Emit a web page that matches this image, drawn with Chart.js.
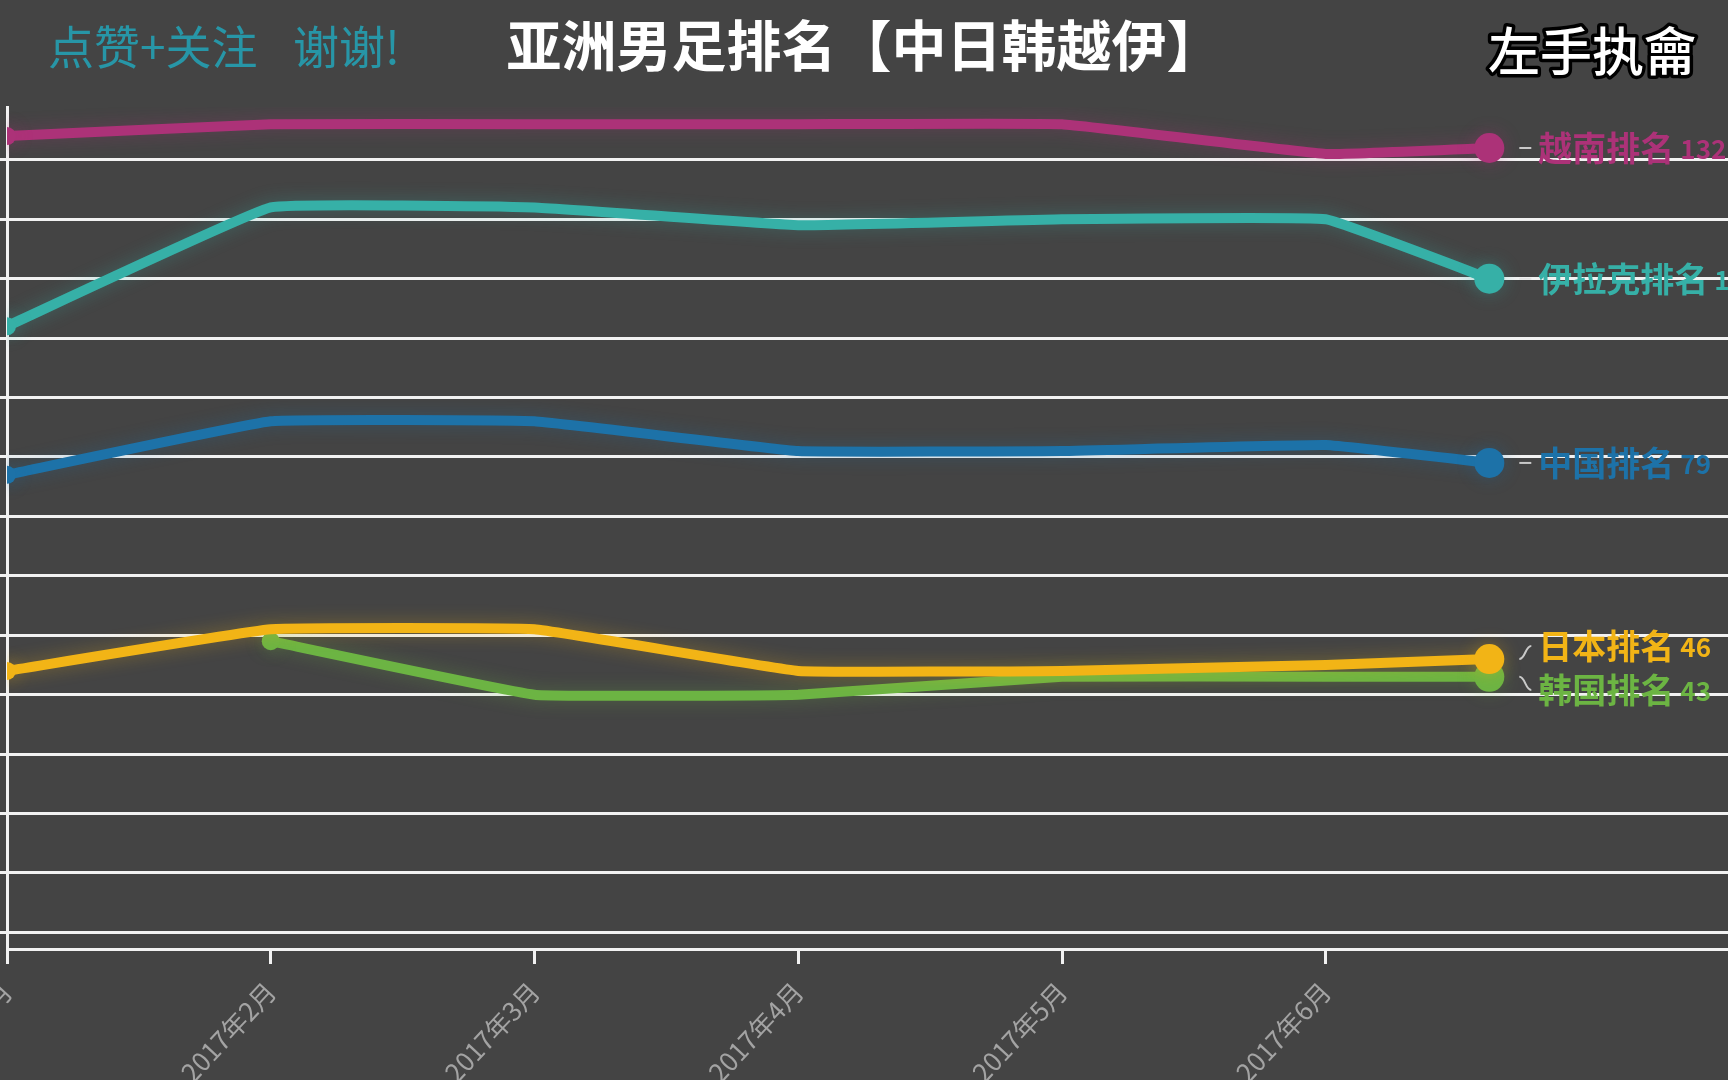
<!DOCTYPE html>
<html><head><meta charset="utf-8">
<script src="https://cdn.jsdelivr.net/npm/chart.js@4/dist/chart.umd.min.js"></script>
<style>html,body{margin:0;padding:0;background:#444444;overflow:hidden}</style>
</head><body>
<canvas id="c" width="1728" height="1080"></canvas>
<script>
// ---- data ----
const months = [1, 2, 3, 4, 5, 6, 6.62];
const tickMonths = [1, 2, 3, 4, 5, 6];
const tickLabels = ['2017年1月', '2017年2月', '2017年3月', '2017年4月', '2017年5月', '2017年6月'];
const gridValues = [0, 10, 20, 30, 40, 50, 60, 70, 80, 90, 100, 110, 120, 130];
const seriesNames = ['越南排名', '伊拉克排名', '中国排名', '日本排名', '韩国排名'];
const vietnam = [134, 136, 136, 136, 136, 131, 132];
const iraq    = [102, 122, 122, 119, 120, 120, 110];
const china   = [77, 86, 86, 81, 81, 82, 79];
const japan   = [44, 51, 51, 44, 44, 45, 46];
const korea   = [null, 49, 40, 40, 43, 43, 43];
const seriesColors = ['#ac3278', '#36b0a7', '#1d72a8', '#f2b416', '#6cb443'];

const allSeries = [vietnam, iraq, china, japan, korea];
const FONT = '"Noto Sans CJK SC", "Noto Sans", sans-serif';

const datasets = allSeries.map((vals, i) => ({
  label: seriesNames[i],
  data: vals.map((v, j) => ({ x: months[j], y: v })),
  borderColor: seriesColors[i],
  backgroundColor: seriesColors[i],
  pointBackgroundColor: seriesColors[i],
  borderWidth: 10,
  tension: 0.08,
  fill: false,
  pointBorderWidth: 0,
  pointRadius: (ctx) => {
    const d = ctx.dataset.data;
    const idx = ctx.dataIndex;
    if (idx === d.length - 1) return 15;
    const first = d.findIndex(p => p.y !== null);
    return idx === first ? 9 : 0;
  }
}));

const bgPlugin = {
  id: 'bg',
  beforeDraw(chart) {
    const c = chart.ctx;
    c.save();
    c.fillStyle = '#444444';
    c.fillRect(0, 0, chart.width, chart.height);
    c.restore();
  }
};

const glowPlugin = {
  id: 'glow',
  beforeDatasetDraw(chart, args) {
    const c = chart.ctx;
    c.save();
    const col = seriesColors[args.index];
    c.shadowColor = col + '55';
    c.shadowBlur = 18;
  },
  afterDatasetDraw(chart) {
    chart.ctx.restore();
  }
};

const labelPlugin = {
  id: 'endLabels',
  afterDatasetsDraw(chart) {
    const c = chart.ctx;
    const items = chart.data.datasets.map((ds, i) => {
      const meta = chart.getDatasetMeta(i);
      const pt = meta.data[meta.data.length - 1];
      const v = ds.data[ds.data.length - 1].y;
      return { i, x: pt.x, y: pt.y, ly: pt.y, v };
    }).sort((a, b) => a.y - b.y);
    const gap = 44;
    for (let it = 0; it < 50; it++) {
      for (let k = 0; k < items.length - 1; k++) {
        const a = items[k], b = items[k + 1];
        const d = b.ly - a.ly;
        if (d < gap) {
          const push = (gap - d) / 2;
          a.ly -= push; b.ly += push;
        }
      }
    }
    c.save();
    items.forEach(it => {
      const col = seriesColors[it.i];
      c.strokeStyle = 'rgba(225,225,225,0.85)';
      c.lineWidth = 2;
      c.beginPath();
      if (Math.abs(it.ly - it.y) < 1) {
        c.moveTo(it.x + 30, it.y);
        c.lineTo(it.x + 42, it.y);
      } else {
        c.moveTo(it.x + 30, it.y);
        c.bezierCurveTo(it.x + 36, it.y, it.x + 36, it.ly, it.x + 42, it.ly);
      }
      c.stroke();
      c.fillStyle = col;
      c.textBaseline = 'middle';
      c.textAlign = 'left';
      c.font = 'bold 34px ' + FONT;
      const name = seriesNames[it.i];
      c.fillText(name, it.x + 49, it.ly);
      const w = c.measureText(name).width;
      c.font = 'bold 26px ' + FONT;
      c.fillText(String(Math.round(it.v)), it.x + 49 + w + 6, it.ly + 1);
    });
    c.restore();
  },
  afterDraw(chart) {
    const c = chart.ctx;
    c.save();
    c.textBaseline = 'middle';
    // left note
    c.fillStyle = '#2796a7';
    c.font = '46px ' + FONT;
    c.textAlign = 'left';
    c.fillText('点赞+关注', 48, 47);
    c.fillText('谢谢!', 293, 47);
    // title
    c.fillStyle = '#ffffff';
    c.font = 'bold 55px ' + FONT;
    c.textAlign = 'center';
    c.fillText('亚洲男足排名【中日韩越伊】', 864, 45);
    // signature
    c.font = '500 52px ' + FONT;
    c.textAlign = 'right';
    c.lineJoin = 'round';
    c.lineWidth = 7;
    c.strokeStyle = '#000000';
    c.strokeText('左手执龠', 1696, 51);
    c.fillStyle = '#ffffff';
    c.fillText('左手执龠', 1696, 51);
    c.restore();
  }
};

new Chart(document.getElementById('c'), {
  type: 'line',
  data: { datasets },
  plugins: [bgPlugin, glowPlugin, labelPlugin],
  options: {
    responsive: false,
    animation: false,
    events: [],
    devicePixelRatio: 1,
    layout: { autoPadding: false, padding: { top: 107, left: 0, right: 0, bottom: 0 } },
    plugins: { legend: { display: false }, tooltip: { enabled: false }, title: { display: false } },
    scales: {
      x: {
        type: 'linear',
        min: 1,
        max: 7.525,
        afterBuildTicks: (s) => { s.ticks = tickMonths.map(v => ({ value: v })); },
        afterFit: (s) => { s.height = 131; s.paddingLeft = 0; s.paddingRight = 0; },
        grid: { display: true, drawOnChartArea: false, drawTicks: true, tickLength: 15, color: '#f2f2f2', lineWidth: 3 },
        border: { display: true, color: '#f2f2f2', width: 3 },
        ticks: {
          autoSkip: false,
          minRotation: 47,
          maxRotation: 47,
          padding: 12,
          color: '#a3a3a3',
          font: { size: 26, family: FONT },
          callback: (v) => tickLabels[tickMonths.indexOf(v)]
        }
      },
      y: {
        type: 'linear',
        min: -2.8,
        max: 138.9,
        afterBuildTicks: (s) => { s.ticks = gridValues.map(v => ({ value: v })); },
        afterFit: (s) => { s.width = 7; s.paddingTop = 0; s.paddingBottom = 0; },
        grid: { display: true, drawTicks: true, tickLength: 7, color: '#f2f2f2', lineWidth: 3 },
        border: { display: true, color: '#f2f2f2', width: 3 },
        ticks: { display: false }
      }
    }
  }
});
</script>
</body></html>
